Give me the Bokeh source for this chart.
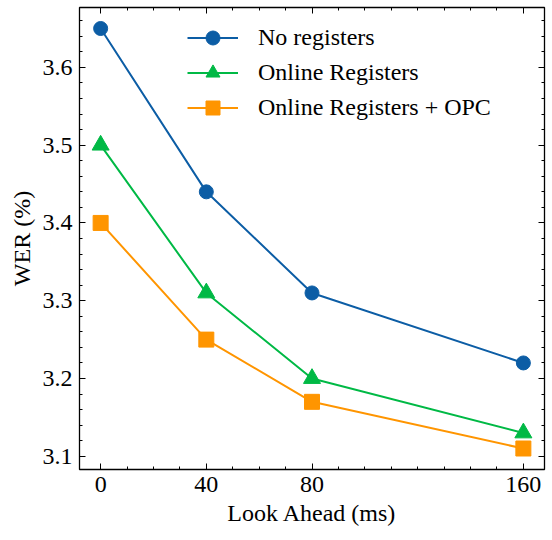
from bokeh.plotting import figure
from bokeh.models import Range1d, FixedTicker, LinearAxis, Legend, LegendItem
from bokeh.embed import file_html
from bokeh.resources import INLINE

# Word error rate versus look-ahead window
lookahead = [0, 40, 80, 160]
x_tick_labels = ["0", "40", "80", "160"]
no_registers = [3.65, 3.44, 3.31, 3.22]
online_registers = [3.50, 3.31, 3.20, 3.13]
online_registers_opc = [3.40, 3.25, 3.17, 3.11]
y_ticks = [3.1, 3.2, 3.3, 3.4, 3.5, 3.6]

FONT = "Liberation Serif"
FS = "24px"

p = figure(width=552, height=540, output_backend="svg", toolbar_location=None,
           x_range=Range1d(-8, 168), y_range=Range1d(3.083, 3.677),
           min_border_left=79, min_border_right=8, min_border_top=7, min_border_bottom=71)

p.xgrid.visible = False
p.ygrid.visible = False
p.outline_line_color = "black"
p.outline_line_width = 1.3
p.background_fill_color = "white"
p.border_fill_color = "white"

x_ticker = FixedTicker(ticks=lookahead, minor_ticks=list(range(-10, 171, 10)))
y_ticker = FixedTicker(ticks=y_ticks, minor_ticks=[round(3.08 + 0.02 * i, 2) for i in range(31)])

bottom = p.xaxis[0]
left = p.yaxis[0]
bottom.ticker = x_ticker
bottom.major_label_overrides = {v: s for v, s in zip(lookahead, x_tick_labels)}
left.ticker = y_ticker

# mirrored tick marks on the top and right edges
top = LinearAxis(ticker=x_ticker)
right = LinearAxis(ticker=y_ticker)
p.add_layout(top, "above")
p.add_layout(right, "right")

for ax in [bottom, left, top, right]:
    ax.axis_line_color = None
    ax.major_tick_in = 6
    ax.major_tick_out = 0
    ax.minor_tick_in = 3
    ax.minor_tick_out = 0
    ax.major_tick_line_color = "black"
    ax.minor_tick_line_color = "black"
    ax.major_tick_line_width = 1
    ax.minor_tick_line_width = 1
    ax.major_label_text_font = FONT
    ax.major_label_text_font_size = FS
    ax.major_label_text_color = "black"

for ax in [top, right]:
    ax.major_label_text_font_size = "1px"
    ax.major_label_text_color = None
    ax.major_label_standoff = 0

bottom.axis_label = "Look Ahead (ms)"
left.axis_label = "WER (%)"
for ax in [bottom, left]:
    ax.axis_label_text_font = FONT
    ax.axis_label_text_font_size = FS
    ax.axis_label_text_font_style = "normal"
    ax.axis_label_text_color = "black"
bottom.major_label_standoff = 7
bottom.axis_label_standoff = 5
left.major_label_standoff = 7
left.axis_label_standoff = 5

series = [
    (no_registers, "#0C5DA5", "circle", 14, "No registers"),
    (online_registers, "#00B945", "triangle", 17, "Online Registers"),
    (online_registers_opc, "#FF9500", "square", 15, "Online Registers + OPC"),
]

items = []
for ys, color, marker, size, label in series:
    ln = p.line(lookahead, ys, line_color=color, line_width=2)
    sc = p.scatter(lookahead, ys, marker=marker, size=size, fill_color=color, line_color=color)
    items.append(LegendItem(label=label, renderers=[ln, sc]))

legend = Legend(items=items, location=(108, 344))
legend.border_line_color = None
legend.background_fill_alpha = 0
legend.padding = 0
legend.margin = 0
legend.glyph_width = 51
legend.glyph_height = 35
legend.label_height = 35
legend.spacing = 0
legend.label_standoff = 20
legend.label_text_font = FONT
legend.label_text_font_size = FS
legend.label_text_color = "black"
p.add_layout(legend, "center")

open("out.html", "w").write(file_html(p, INLINE))
